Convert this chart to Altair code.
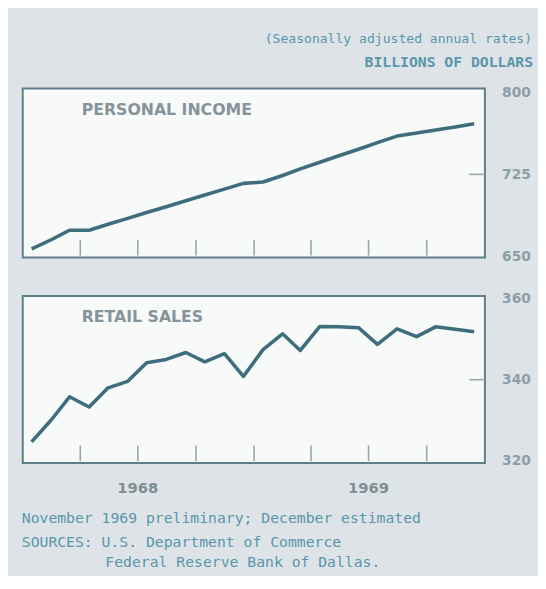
import altair as alt
import pandas as pd

# ---- data ----
months = [
    "1968-01-15", "1968-02-15", "1968-03-15", "1968-04-15", "1968-05-15", "1968-06-15",
    "1968-07-15", "1968-08-15", "1968-09-15", "1968-10-15", "1968-11-15", "1968-12-15",
    "1969-01-15", "1969-02-15", "1969-03-15", "1969-04-15", "1969-05-15", "1969-06-15",
    "1969-07-15", "1969-08-15", "1969-09-15", "1969-10-15", "1969-11-15", "1969-12-15",
]
personal_income = [656.9, 665.3, 674.0, 674.0, 679.4, 684.8, 690.2, 695.5, 700.9, 706.2,
                   711.5, 716.8, 718.0, 724.0, 730.0, 736.1, 742.0, 748.0, 754.0, 760.0,
                   762.8, 765.6, 768.4, 771.3]
retail_sales = [324.7, 330.1, 335.8, 333.3, 338.0, 339.6, 344.2, 345.0, 346.7, 344.4,
                346.4, 340.8, 347.4, 351.3, 347.2, 353.1, 353.0, 352.8, 348.7, 352.5,
                350.6, 353.0, 352.4, 351.8]
quarter_ticks = ["1968-04-01", "1968-07-01", "1968-10-01", "1969-01-01",
                 "1969-04-01", "1969-07-01", "1969-10-01"]
year_labels = ["1968", "1969"]
year_label_dates = ["1968-07-01", "1969-07-01"]
income_axis_values = [650, 725, 800]
sales_axis_values = [320, 340, 360]
income_mid_tick = [725]
sales_mid_tick = [340]
header_lines = ["(Seasonally adjusted annual rates)", "BILLIONS OF DOLLARS"]
panel_titles = ["PERSONAL INCOME", "RETAIL SALES"]
footnotes = ["November 1969 preliminary; December estimated",
             "SOURCES: U.S. Department of Commerce",
             "Federal Reserve Bank of Dallas."]

# ---- styling ----
BG = "#dde3e7"
PLOT_BG = "#f8f9f9"
FRAME = "#5e7e8a"
LINE = "#3e6d7d"
TEAL_TEXT = "#5a96ab"
AXIS_TEXT = "#8c9fa6"
TITLE_TEXT = "#86949a"
TICK = "#9aa6aa"
FONT = "DejaVu Sans"
MONO = "DejaVu Sans Mono"

W = 470
H1 = 172
H2 = 170

x_scale = alt.Scale(domain=[alt.DateTime(year=1968, month=1, date=1, utc=True),
                            alt.DateTime(year=1970, month=1, date=1, utc=True)])
y1_scale = alt.Scale(domain=[649, 803.5], nice=False, zero=False)
y2_scale = alt.Scale(domain=[319.5, 360.6], nice=False, zero=False)


def y_axis(vals):
    return alt.Axis(orient="right", values=vals, domain=False, ticks=False,
                    grid=False, labelPadding=17, labelFont=FONT, labelFontSize=14,
                    labelFontWeight="bold", labelColor=AXIS_TEXT, title=None,
                    labelOverlap=False)


def panel(values, y_scale, axis_vals, mid_tick, title, height, extra_layers):
    df = pd.DataFrame({"month": months, "value": values})
    line = alt.Chart(df).mark_line(color=LINE, strokeWidth=3.6, strokeJoin="round").encode(
        x=alt.X("month:T", scale=x_scale, axis=None),
        y=alt.Y("value:Q", scale=y_scale, axis=y_axis(axis_vals)),
    )
    ticks = alt.Chart(pd.DataFrame({"month": quarter_ticks})).mark_rule(
        color=TICK, strokeWidth=1.6).encode(
        x=alt.X("month:T", scale=x_scale, axis=None),
        y=alt.value(height - 18),
        y2=alt.value(height - 2),
    )
    mid = alt.Chart(pd.DataFrame({"value": mid_tick})).mark_rule(
        color=TICK, strokeWidth=1.6).encode(
        y=alt.Y("value:Q", scale=y_scale, axis=y_axis(axis_vals)),
        x=alt.value(W - 16),
        x2=alt.value(W),
    )
    ttl = alt.Chart(pd.DataFrame({"t": [title]})).mark_text(
        font=FONT, fontSize=16, fontWeight="bold", color=TITLE_TEXT,
        align="left", baseline="middle").encode(
        text="t:N", x=alt.value(60), y=alt.value(22))
    return alt.layer(line, ticks, mid, ttl, *extra_layers).properties(width=W, height=height)


header1 = alt.Chart(pd.DataFrame({"t": header_lines[:1]})).mark_text(
    font=MONO, fontSize=13.3, color=TEAL_TEXT, align="right", baseline="middle").encode(
    text="t:N", x=alt.value(518), y=alt.value(-50))
header2 = alt.Chart(pd.DataFrame({"t": header_lines[1:]})).mark_text(
    font=MONO, fontSize=15, fontWeight="bold", color=TEAL_TEXT, align="right",
    baseline="middle").encode(
    text="t:N", x=alt.value(519), y=alt.value(-27))

years = alt.Chart(pd.DataFrame({"d": year_label_dates, "t": year_labels})).mark_text(
    font=FONT, fontSize=15, fontWeight="bold", color="#7f8e93", baseline="middle").encode(
    x=alt.X("d:T", scale=x_scale, axis=None),
    y=alt.value(195),
    text="t:N",
)

foot = alt.Chart(pd.DataFrame({"t": footnotes, "xx": [-1, -1, 84], "yy": [226, 250, 271]})).mark_text(
    font=MONO, fontSize=15, color=TEAL_TEXT, align="left", baseline="middle").encode(
    text="t:N",
    x=alt.X("xx:Q", scale=None),
    y=alt.Y("yy:Q", scale=None),
)

top = panel(personal_income, y1_scale, income_axis_values, income_mid_tick,
            panel_titles[0], H1, [header1, header2])
bottom = panel(retail_sales, y2_scale, sales_axis_values, sales_mid_tick,
               panel_titles[1], H2, [years, foot])

chart = alt.vconcat(top, bottom, spacing=39, bounds="flush").resolve_scale(
    y="independent"
).properties(
    padding={"left": 13, "top": 19, "right": 4, "bottom": 0},
    background=BG,
).configure_view(
    stroke=FRAME, strokeWidth=2, fill=PLOT_BG
)

chart.save("out.html", embed_options={"renderer": "svg", "actions": False})
